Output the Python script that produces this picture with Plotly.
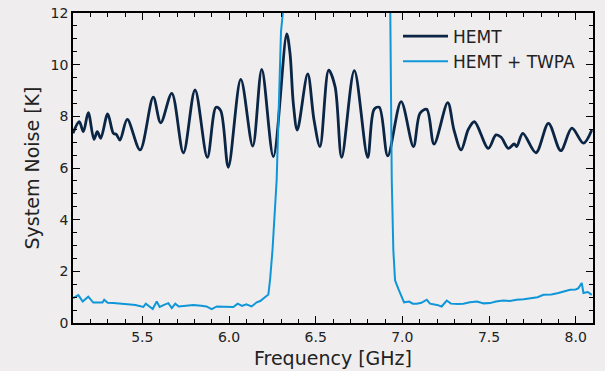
import plotly.graph_objects as go

# HEMT only: frequency [GHz] and system noise [K]
hemt_freq = [5.10, 5.136, 5.16, 5.188, 5.221, 5.24, 5.26, 5.30, 5.333, 5.35, 5.371, 5.413, 5.487,
             5.563, 5.606, 5.67, 5.737, 5.804, 5.875, 5.925, 5.952, 5.996, 6.068, 6.137, 6.189,
             6.256, 6.333, 6.352, 6.371, 6.394, 6.454, 6.49, 6.525, 6.575, 6.612, 6.65, 6.723, 6.80,
             6.837, 6.867, 6.916, 6.993, 7.064, 7.102, 7.141, 7.183, 7.262, 7.298, 7.339, 7.381,
             7.416, 7.496, 7.54, 7.57, 7.612, 7.645, 7.66, 7.695, 7.771, 7.843, 7.914, 7.978,
             8.045, 8.093]
hemt_noise = [7.35, 7.79, 7.41, 8.14, 7.11, 7.41, 7.15, 8.09, 7.34, 7.30, 7.08, 7.88, 6.70,
              8.74, 7.75, 8.89, 6.59, 9.02, 6.41, 8.35, 8.22, 6.03, 9.43, 6.85, 9.82,
              6.44, 11.19, 10.44, 8.5, 7.47, 9.64, 7.88, 6.83, 9.79, 9.15, 6.41, 9.77, 6.41,
              8.27, 8.35, 6.47, 8.57, 6.83, 8.12, 8.27, 6.93, 8.53, 7.47, 6.70, 7.50,
              7.79, 6.76, 7.28, 7.19, 6.76, 6.93, 6.83, 7.34, 6.59, 7.73, 6.67, 7.54,
              6.96, 7.47]

# HEMT + TWPA
twpa_freq = [5.10, 5.131, 5.156, 5.188, 5.217, 5.25, 5.27, 5.28, 5.30, 5.333, 5.37, 5.41, 5.43,
             5.46, 5.49, 5.506, 5.52, 5.54, 5.56, 5.583, 5.60, 5.625, 5.65, 5.67, 5.69, 5.71,
             5.75, 5.794, 5.84, 5.87, 5.90, 5.93, 5.97, 6.025, 6.05, 6.075, 6.10, 6.13, 6.16,
             6.18, 6.202, 6.227, 6.237, 6.251, 6.275, 6.285, 6.294, 6.30, 6.318, 6.33, 6.92,
             6.93, 6.935, 6.939, 6.948, 6.958, 6.977, 6.997, 7.01, 7.04, 7.06, 7.083, 7.11,
             7.141, 7.16, 7.20, 7.227, 7.256, 7.28, 7.32, 7.352, 7.39, 7.43, 7.47, 7.506,
             7.54, 7.583, 7.62, 7.66, 7.70, 7.737, 7.78, 7.814, 7.86, 7.90, 7.93, 7.968,
             8.00, 8.016, 8.035, 8.045, 8.07, 8.093]
twpa_noise = [0.96, 1.08, 0.83, 1.02, 0.79, 0.80, 0.79, 0.90, 0.78, 0.77, 0.76, 0.75, 0.72,
              0.70, 0.66, 0.62, 0.75, 0.66, 0.54, 0.83, 0.62, 0.70, 0.77, 0.58, 0.75, 0.64,
              0.68, 0.70, 0.67, 0.64, 0.54, 0.64, 0.63, 0.62, 0.75, 0.66, 0.72, 0.64, 0.80,
              0.85, 0.97, 1.10, 1.68, 2.83, 5.54, 8.25, 9.54, 11.28, 12.5, 20.0, 20.0,
              12.5, 8.0, 5.54, 2.83, 1.65, 1.32, 0.96, 0.80, 0.83, 0.75, 0.75, 0.78,
              0.90, 0.75, 0.70, 0.64, 0.87, 0.75, 0.74, 0.75, 0.80, 0.83, 0.76, 0.77,
              0.83, 0.87, 0.85, 0.90, 0.92, 0.96, 1.00, 1.09, 1.10, 1.16, 1.22, 1.29,
              1.30, 1.35, 1.55, 1.16, 1.20, 1.09]

x_ticks = [5.5, 6.0, 6.5, 7.0, 7.5, 8.0]
x_tick_labels = ["5.5", "6.0", "6.5", "7.0", "7.5", "8.0"]
y_ticks = [0, 2, 4, 6, 8, 10, 12]

BG = "#efedee"
FONT = "DejaVu Sans"
TXT = "#222222"

fig = go.Figure()
fig.add_trace(go.Scatter(x=hemt_freq, y=hemt_noise, mode="lines", name="HEMT",
                         line=dict(color="#0b2545", width=2.8, shape="spline", smoothing=0.9)))
fig.add_trace(go.Scatter(x=twpa_freq, y=twpa_noise, mode="lines", name="HEMT + TWPA",
                         line=dict(color="#0f96d8", width=2)))

axis_common = dict(
    showgrid=False, zeroline=False, showline=True, linecolor="#000000", linewidth=1.5,
    mirror="allticks", ticks="inside", ticklen=7, tickwidth=1.3, tickcolor="#000000",
    tickfont=dict(family=FONT, size=14, color=TXT), automargin=False,
)

fig.update_xaxes(range=[5.1, 8.1], tickvals=x_ticks, ticktext=x_tick_labels,
                 title=dict(text="Frequency [GHz]", font=dict(family=FONT, size=19, color=TXT),
                            standoff=8),
                 minor=dict(dtick=0.1, tick0=5.0, ticks="inside", ticklen=4, tickwidth=1,
                            tickcolor="#000000"),
                 **axis_common)
fig.update_yaxes(range=[0, 12], tickvals=y_ticks,
                 title=dict(text="System Noise [K]", font=dict(family=FONT, size=19, color=TXT),
                            standoff=6),
                 minor=dict(dtick=0.5, tick0=0, ticks="inside", ticklen=4, tickwidth=1,
                            tickcolor="#000000"),
                 **axis_common)

fig.update_layout(
    width=605, height=371,
    margin=dict(l=73, r=12, t=13, b=48),
    paper_bgcolor=BG, plot_bgcolor=BG,
    font=dict(family=FONT, color=TXT),
    legend=dict(x=0.625, y=0.982, xanchor="left", yanchor="top", itemwidth=45,
                bgcolor="rgba(0,0,0,0)", font=dict(family=FONT, size=17, color=TXT),
                tracegroupgap=0),
)

fig.write_html("out.html")
